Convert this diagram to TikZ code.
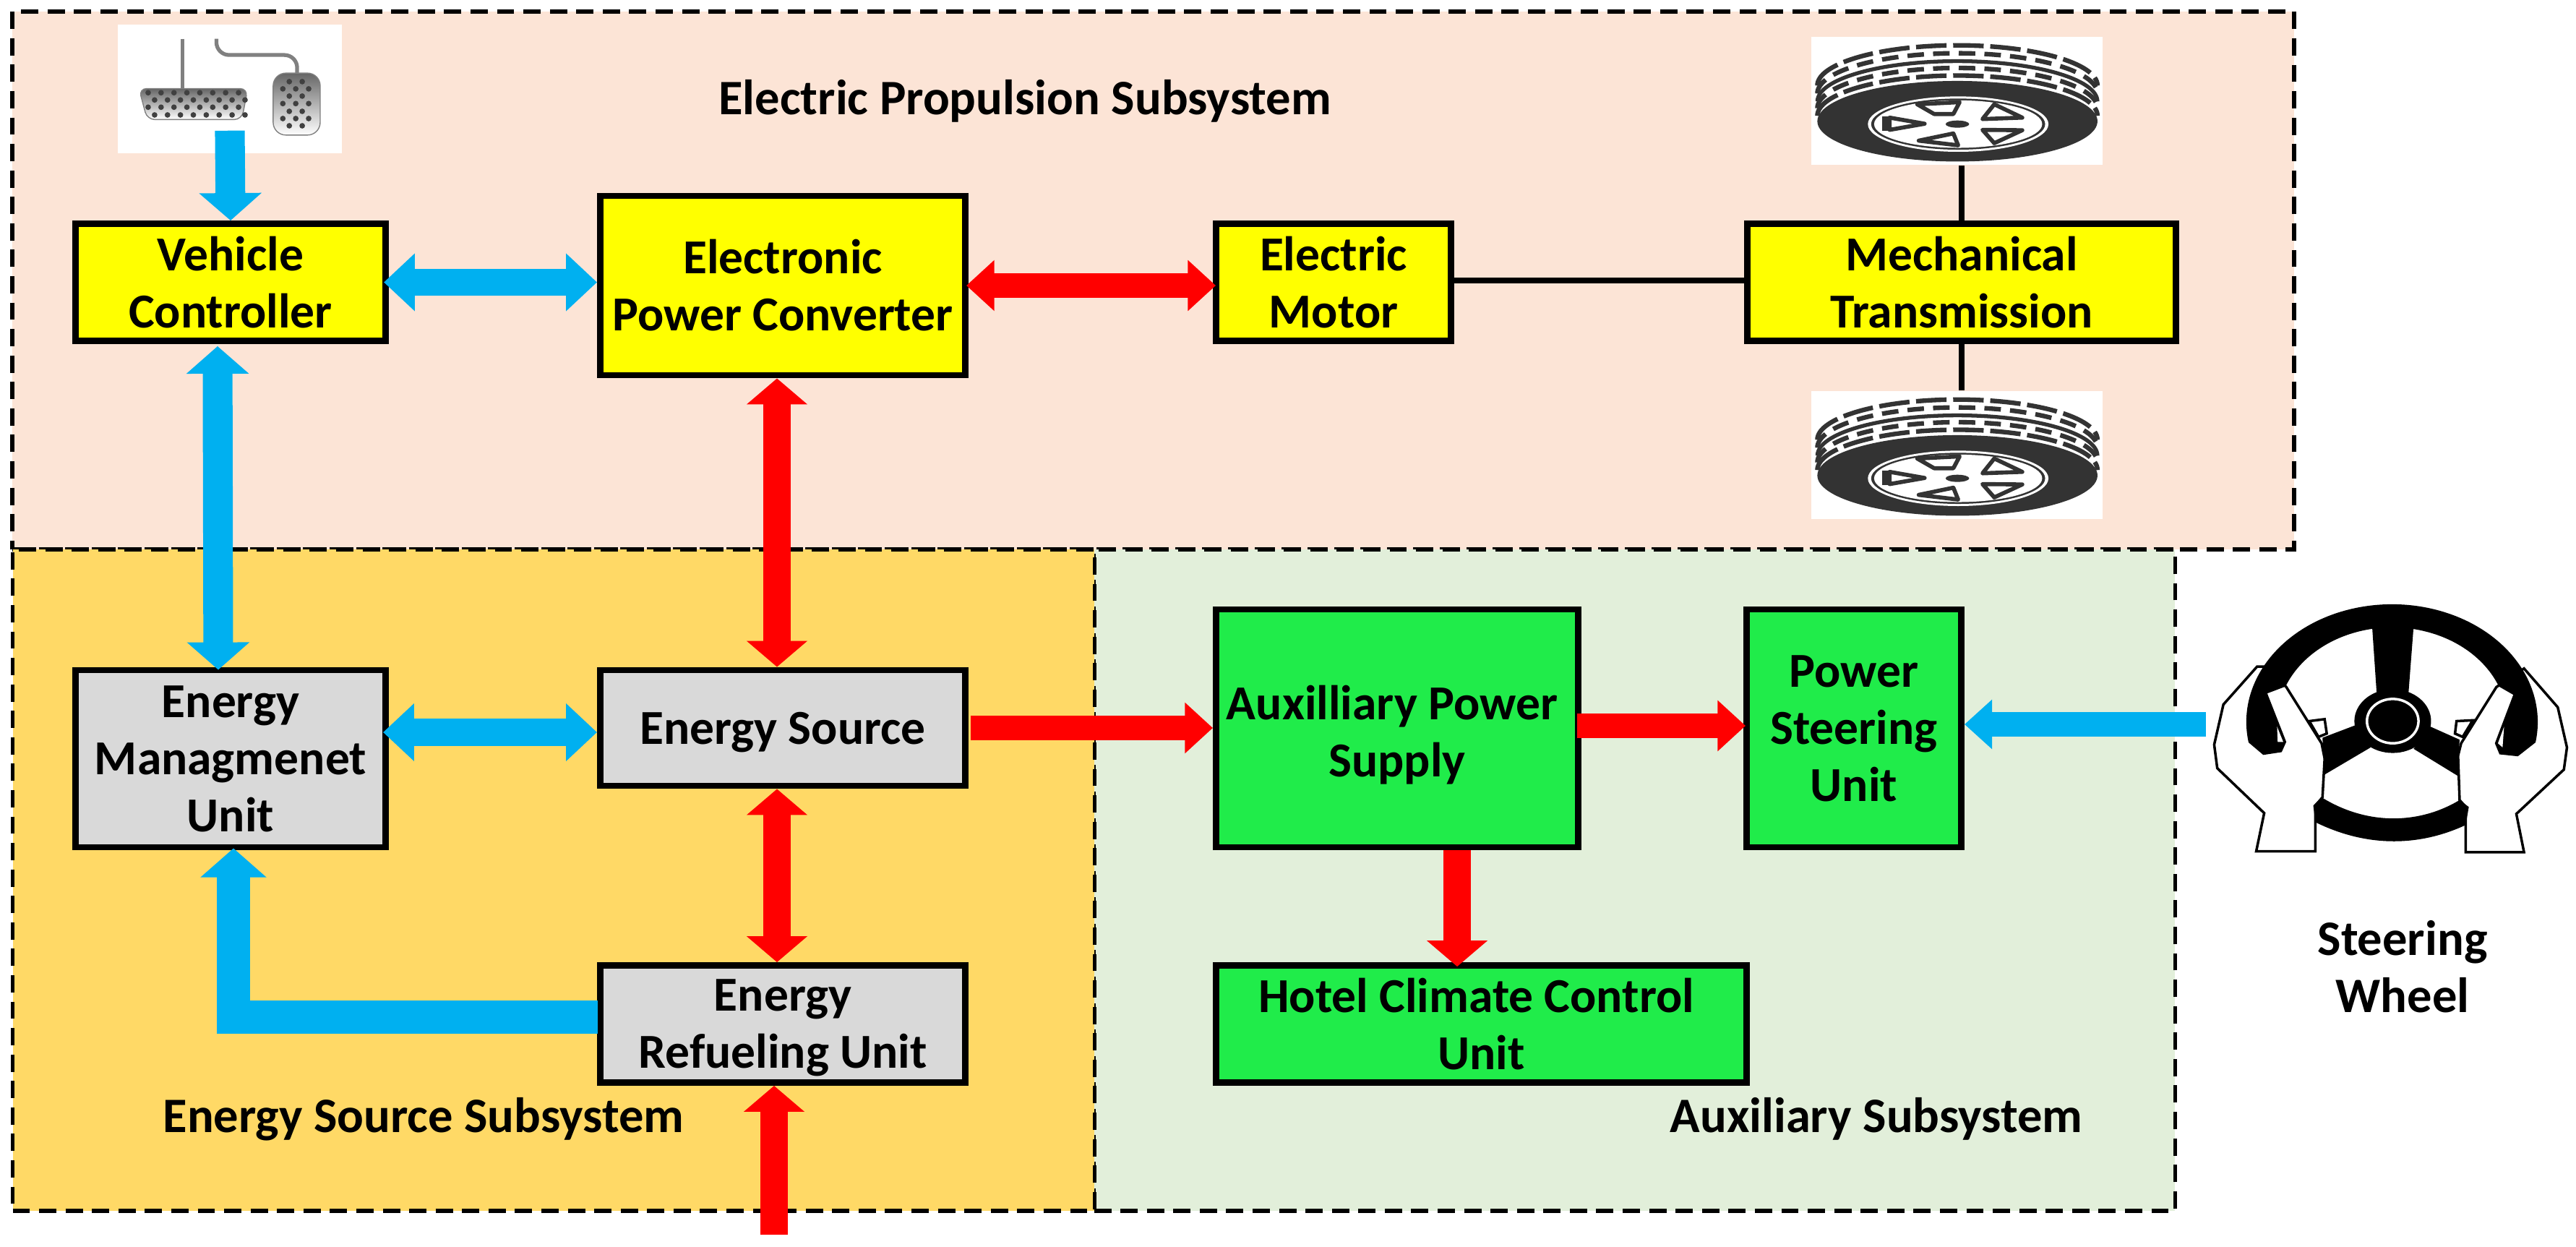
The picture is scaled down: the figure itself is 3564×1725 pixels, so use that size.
\documentclass[tikz,border=0pt]{standalone}
\usepackage{fontspec}
\setmainfont{Carlito}
\usetikzlibrary{arrows.meta}
\definecolor{pinkbg}{HTML}{FCE4D6}
\definecolor{orangebg}{HTML}{FFD966}
\definecolor{greenbg}{HTML}{E2EFDA}
\definecolor{arrblue}{HTML}{00B0F0}
\definecolor{arrred}{HTML}{FF0000}
\definecolor{boxyellow}{HTML}{FFFF00}
\definecolor{boxgreen}{HTML}{20EC4A}
\definecolor{boxgray}{HTML}{D9D9D9}
\definecolor{tyredark}{HTML}{333333}
\newcommand{\dnstrut}[1]{\rule{0pt}{#1}}
\tikzset{
  panel/.style={draw=black,line width=1.6pt,dash pattern=on 6.8pt off 3.6pt,inner sep=0pt},
  lbl/.style={font=\fontsize{#1}{22.5}\selectfont\bfseries,align=center,inner sep=0pt},
  lbl/.default=19.5,
  box/.style={lbl=19.2,draw=black,line width=2.5pt},
  ybox/.style={box,fill=boxyellow},
  gbox/.style={box,fill=boxgreen},
  kbox/.style={box,fill=boxgray},
  img/.style={fill=white,inner sep=0pt},
  bluearr/.style={draw=arrblue,line width=10.8pt},
  bluevert/.style={draw=arrblue,line width=11.7pt},
  bluethin/.style={draw=arrblue,line width=9.4pt},
  redarr/.style={draw=arrred,line width=9.6pt},
  redvert/.style={draw=arrred,line width=10.8pt},
  fatarr/.style={draw=arrblue,line width=12.8pt,miter limit=10},
  wire/.style={draw=black,line width=2.3pt},
  bh/.tip={Triangle[width=22pt,length=12.2pt]},
  bv/.tip={Triangle[width=24pt,length=10.8pt]},
  bt/.tip={Triangle[width=18.8pt,length=10.8pt]},
  rh/.tip={Triangle[width=19.4pt,length=11pt]},
  rv/.tip={Triangle[width=23.3pt,length=10.2pt]},
  fh/.tip={Triangle[width=25.3pt,length=11.4pt]},
  tyre/.pic={
    \begin{scope}[shift={(-207,-102)}]
      \foreach \yc in {239,323}
        \draw[tyredark,line width=1.8pt,dash pattern=on 12pt off 2.6pt]
          (225,\yc) arc[start angle=180,end angle=360,x radius=380,y radius=112];
      \foreach \yc in {261,302}
        \draw[tyredark,line width=1.8pt,dash pattern=on 6.5pt off 3.6pt]
          (225,\yc) arc[start angle=180,end angle=360,x radius=380,y radius=112];
      \draw[tyredark,line width=1.5pt] (225,283) arc[start angle=180,end angle=360,x radius=380,y radius=112];
      \fill[tyredark] (605,338) ellipse[x radius=380,y radius=112];
      \fill[white] (607,346) ellipse[x radius=245,y radius=77];
      \fill[tyredark] (607,346) ellipse[x radius=236,y radius=71];
      \fill[white] (607,346) ellipse[x radius=228,y radius=66];
      \foreach \p in {
        {(496,291)--(611,285)--(594,318)--(542,318)--cycle},
        {(705,291)--(781,328)--(673,332)--cycle},
        {(673,362)--(781,363)--(705,399)--cycle},
        {(500,392)--(594,372)--(607,405)--cycle},
        {(421,328)--(516,345)--(421,362)--cycle}}
        \draw[tyredark,line width=1.6pt,fill=white,line join=round] \p;
      \fill[tyredark] (400,325) -- (425,325) -- (425,365) -- (400,365) -- cycle;
      \fill[tyredark] (605,346) ellipse[x radius=32,y radius=10];
    \end{scope}
  },
  pedalpic/.pic={
    \begin{scope}[shift={(-255,-95)}]
      \draw[gray,line width=1.5pt] (397,152) -- (397,345);
      \draw[gray,line width=1.5pt,rounded corners=5pt] (470,152) |- (645,215) -- (645,290);
      \draw[gray,top color=gray!80!black,bottom color=white,rounded corners=3pt]
        (302,345) -- (538,345) -- (525,465) -- (320,465) -- cycle;
      \draw[gray,top color=gray!80!black,bottom color=white,rounded corners=5pt]
        (593,285) rectangle (695,525);
      \foreach \y/\xs in {361/322,417/322,389/336,447/336}
        \foreach \i in {0,...,7}
          \fill[black!75] ({\xs+\i*28},\y) circle[radius=1.1pt];
      \foreach \y in {318,374,433,489}
        \foreach \x in {628,656}
          \fill[black!75] (\x,\y) circle[radius=1.1pt];
      \foreach \y in {346,403,461}
        \foreach \x in {614,642,670}
          \fill[black!75] (\x,\y) circle[radius=1.1pt];
    \end{scope}
  }
}
\begin{document}
\begin{tikzpicture}[x=0.01cm,y=-0.01cm]
  \useasboundingbox (0,0) rectangle (3564,1725);
  % subsystem panels
  \node[panel,fill=pinkbg,minimum width=31.55cm,minimum height=7.44cm] (pp) at (1595.5,388) {};
  \node[panel,fill=greenbg,minimum width=14.95cm,minimum height=9.15cm] (pa) at (2261.5,1217.5) {};
  \node[panel,fill=orangebg,minimum width=14.96cm,minimum height=9.15cm] (pe) at (766,1217.5) {};
  \node[lbl] (tp) at (1418,140) {Electric Propulsion Subsystem};
  \node[lbl] (te) at (586,1548) {Energy Source Subsystem};
  \node[lbl] (ta) at (2596,1548) {Auxiliary Subsystem};
  % pictures
  \node[img,minimum width=3.10cm,minimum height=1.78cm] (ped) at (318,123) {};
  \pic[x=0.00638cm,y=-0.00357cm] at (ped.north west) {pedalpic};
  \node[img,minimum width=4.03cm,minimum height=1.77cm] (ty1) at (2707.5,139.5) {};
  \pic[x=0.0051cm,y=-0.004975cm] at (ty1.north west) {tyre};
  \node[img,minimum width=4.03cm,minimum height=1.77cm] (ty2) at (2707.5,629.5) {};
  \pic[x=0.0051cm,y=-0.004975cm] at (ty2.north west) {tyre};
  % steering wheel and hands
  \coordinate (swh) at (3052,1002);
  \begin{scope}[shift={(2900,850)},x=0.00424cm,y=-0.00383cm]
    \foreach \h in {
      {(525,188)--(555,188)--(620,262)--(735,465)--(745,520)--(738,660)--(715,690)--(715,855)--(522,855)--(548,717)--(395,555)--(385,470)--(415,325)--cycle},
      {(1395,195)--(1505,335)--(1535,480)--(1525,560)--(1370,720)--(1395,858)--(1205,858)--(1205,695)--(1185,670)--(1180,510)--(1190,465)--(1305,262)--cycle}}
      \draw[black,fill=white,line width=1pt] \h;
    \fill[black] (497,462) arc[start angle=170,end angle=370,x radius=475,y radius=425]
      -- (1375,512) -- (1315,505) -- (1300,465) -- (1360,290) -- (1313,260)
      arc[start angle=338,end angle=202,x radius=375,y radius=341]
      -- (558,285) -- (620,460) -- (605,497) -- (545,507) -- cycle;
    \fill[white] (590,405) -- (610,460) -- (592,460) -- cycle;
    \fill[white] (1330,405) -- (1310,465) -- (1325,480) -- cycle;
    \fill[black] (900,45) -- (1035,45) -- (1018,290) -- (915,290) -- cycle;
    \fill[black] (845,400) -- (738,445) -- (745,578) -- (895,480) -- cycle;
    \fill[black] (1090,405) -- (1185,452) -- (1178,582) -- (1035,485) -- cycle;
    \fill[black] (967,385) ellipse[x radius=125,y radius=115];
    \draw[white,line width=1pt] (967,385) ellipse[x radius=84,y radius=80];
    \foreach \f in {
      {(695,385)--(745,378)--(752,430)--(725,442)--cycle},
      {(1175,385)--(1228,382)--(1195,442)--(1170,430)--cycle}}
      \draw[black,fill=white,line width=1pt] \f;
    \fill[black] (708,690) -- (735,660) .. controls (880,760) and (1050,760) .. (1185,670)
      -- (1215,695) -- (1205,760) .. controls (1050,840) and (880,840) .. (715,750) -- cycle;
  \end{scope}
  \node[lbl] (tw) at (3324,1337) {Steering\\Wheel};
  % blocks
  \node[ybox,minimum width=4.29cm,minimum height=1.62cm] (vc) at (319,390.5) {Vehicle\\Controller};
  \node[ybox,minimum width=5.05cm,minimum height=2.48cm] (epc) at (1083,395) {Electronic\\Power Converter};
  \node[ybox,minimum width=3.25cm,minimum height=1.62cm] (mot) at (1845,390.5) {Electric\\Motor};
  \node[ybox,minimum width=5.93cm,minimum height=1.62cm] (mec) at (2714,390.5) {Mechanical\\Transmission};
  \node[kbox,minimum width=4.29cm,minimum height=2.45cm] (emu) at (319,1049.5) {Energy\\Managmenet\\Unit};
  \node[kbox,minimum width=5.05cm,minimum height=1.60cm] (src) at (1083,1007) {\dnstrut{16.2pt}Energy Source};
  \node[kbox,minimum width=5.05cm,minimum height=1.62cm] (ref) at (1083,1416.5) {\dnstrut{15.5pt}Energy\\Refueling Unit};
  \node[gbox,minimum width=5.01cm,minimum height=3.29cm] (aux) at (1933,1007.5) {\dnstrut{18.7pt}Auxilliary Power\hspace*{4pt}\\Supply};
  \node[gbox,minimum width=2.97cm,minimum height=3.29cm] (ps) at (2565,1007.5) {Power\\Steering\\Unit};
  \node[gbox,minimum width=7.34cm,minimum height=1.62cm] (hot) at (2049.5,1416.5) {Hotel Climate Control\hspace*{4pt}\\Unit};
  % connectors
  \draw[bluevert,-{bv}] ([yshift=0.32cm]ped.south) -- (vc.north);
  \draw[bluearr,{bh}-{bh}] ([xshift=-0.07cm]vc.east) -- (vc.east -| epc.west);
  \draw[redarr,{rh}-{rh}] ([xshift=-0.03cm]epc.east) -- ([xshift=0.04cm]epc.east -| mot.west);
  \draw[bluevert,{bv}-{bv}] ([xshift=-0.18cm,yshift=-0.03cm]vc.south) -- ([xshift=-0.17cm,yshift=-0.04cm]emu.north);
  \draw[redvert,{rv}-{rv}] ([xshift=-0.08cm]epc.south) -- ([xshift=-0.08cm]src.north);
  \draw[bluearr,{bh}-{bh}] ([yshift=-0.06cm]src.west) -- ([yshift=-0.06cm,xshift=-0.08cm]src.west -| emu.east);
  \draw[redarr,-{rh}] ([xshift=0.03cm]src.east) -- (src.east -| aux.west);
  \draw[redarr,-{rh}] ([xshift=-0.06cm,yshift=0.035cm]aux.east) -- ([xshift=0.03cm,yshift=0.035cm]aux.east -| ps.west);
  \draw[bluethin,-{bt}] (swh) -- (swh -| ps.east);
  \draw[redvert,-{rv}] ([xshift=0.83cm]aux.south) -- ([xshift=0.83cm,yshift=-0.06cm]aux.south |- hot.north);
  \draw[redvert,{rv}-{rv}] ([xshift=-0.08cm]src.south) -- ([xshift=-0.08cm]ref.north);
  \draw[fatarr,-{fh}] ([yshift=0.095cm,xshift=0.01cm]ref.west) -| ([xshift=0.04cm,yshift=0.03cm]emu.south);
  \coordinate (feed) at (1071,1708);
  \draw[redvert,-{rv}] (feed) -- (feed |- ref.south);
  \draw[wire] ([yshift=0.025cm]mot.east) -- ([yshift=0.025cm]mot.east -| mec.west);
  \draw[wire] (mec.north) -- (mec.north |- ty1.south);
  \draw[wire] (mec.south) -- (mec.south |- ty2.north);
\end{tikzpicture}
\end{document}
